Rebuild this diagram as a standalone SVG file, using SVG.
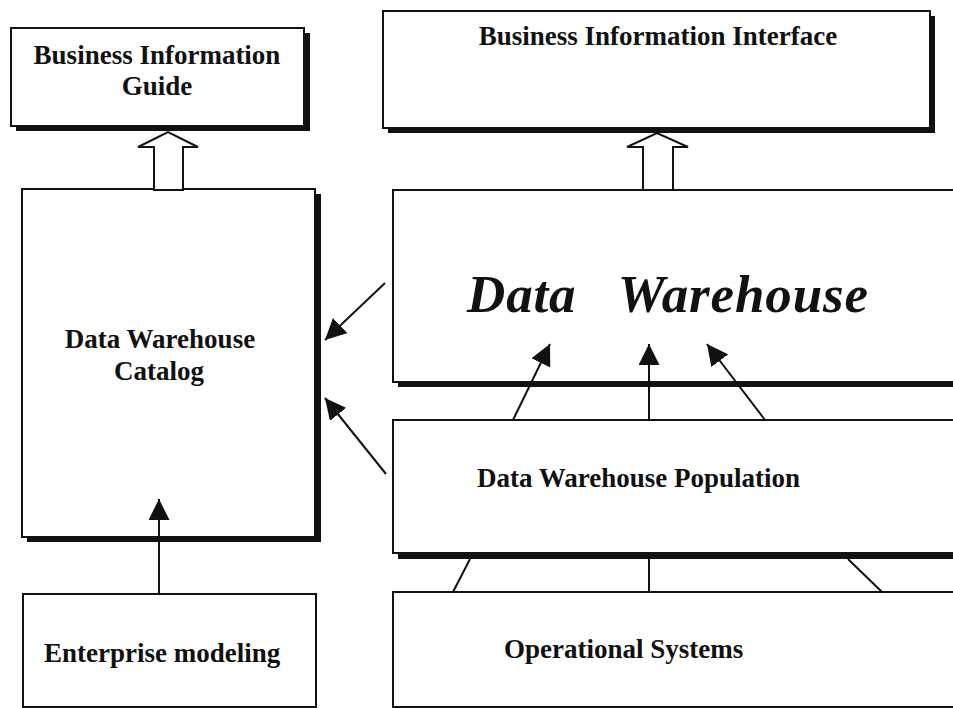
<svg xmlns="http://www.w3.org/2000/svg" width="953" height="708" viewBox="0 0 953 708">
  <defs>
    <style>
      .box { fill: #fff; stroke: #111; stroke-width: 2; }
      .shadow { fill: #111; }
      .label { font-family: "Liberation Serif", "Times New Roman", serif; font-weight: bold; font-size: 27px; fill: #111; }
      .title { font-family: "Liberation Serif", "Times New Roman", serif; font-weight: bold; font-style: italic; font-size: 53px; fill: #111; white-space: pre; }
      .wire { fill: none; stroke: #111; stroke-width: 2; }
      .hollow { fill: #fff; stroke: #111; stroke-width: 2; stroke-linejoin: miter; }
    </style>
    <marker id="head" viewBox="0 0 20 20" refX="20" refY="10" markerWidth="21" markerHeight="21" markerUnits="userSpaceOnUse" orient="auto">
      <path d="M0,0 L20,10 L0,20 z" fill="#111"/>
    </marker>
  </defs>

  <rect width="953" height="708" fill="#fff"/>

  <!-- Business Information Guide -->
  <g id="business-information-guide">
    <rect class="shadow" x="16" y="33" width="294" height="98"/>
    <rect class="box" x="11" y="28" width="293" height="98"/>
    <text class="label" x="157" y="64" text-anchor="middle">Business Information</text>
    <text class="label" x="157" y="95" text-anchor="middle">Guide</text>
  </g>

  <!-- Business Information Interface -->
  <g id="business-information-interface">
    <rect class="shadow" x="388" y="16" width="547" height="117"/>
    <rect class="box" x="383" y="11" width="547" height="117"/>
    <text class="label" x="658" y="45" text-anchor="middle">Business Information Interface</text>
  </g>

  <!-- Data Warehouse Catalog -->
  <g id="data-warehouse-catalog">
    <rect class="shadow" x="27" y="194" width="294" height="348"/>
    <rect class="box" x="22" y="189" width="293" height="348"/>
    <text class="label" x="160" y="348" text-anchor="middle">Data Warehouse</text>
    <text class="label" x="159" y="380" text-anchor="middle">Catalog</text>
  </g>

  <!-- Data Warehouse -->
  <g id="data-warehouse">
    <rect class="shadow" x="398" y="195" width="570" height="192"/>
    <rect class="box" x="393" y="190" width="570" height="192"/>
    <text class="title" x="467" y="312" textLength="401" lengthAdjust="spacing">Data   Warehouse</text>
  </g>

  <!-- Data Warehouse Population -->
  <g id="data-warehouse-population">
    <rect class="shadow" x="398" y="425" width="570" height="134"/>
    <rect class="box" x="393" y="420" width="570" height="133"/>
    <text class="label" x="477" y="487">Data Warehouse Population</text>
  </g>

  <!-- Enterprise modeling -->
  <g id="enterprise-modeling">
    <rect class="box" x="23" y="594" width="293" height="113"/>
    <text class="label" x="44" y="662">Enterprise modeling</text>
  </g>

  <!-- Operational Systems -->
  <g id="operational-systems">
    <rect class="box" x="393" y="592" width="570" height="115"/>
    <text class="label" x="504" y="658">Operational Systems</text>
  </g>

  <!-- Connectors -->
  <g id="connectors">
    <!-- hollow block arrows -->
    <polygon class="hollow" points="154,190 154,147 138,147 168,132 198,147 183,147 183,190"/>
    <polygon class="hollow" points="643,190 643,147 627,147 657,133 688,147 673,147 673,190"/>

    <!-- into the catalog -->
    <line class="wire" x1="385" y1="283" x2="325" y2="340" marker-end="url(#head)"/>
    <line class="wire" x1="386" y1="474" x2="325" y2="398" marker-end="url(#head)"/>
    <line class="wire" x1="159" y1="594" x2="159" y2="499" marker-end="url(#head)"/>

    <!-- population into the warehouse -->
    <line class="wire" x1="513" y1="420" x2="550" y2="344" marker-end="url(#head)"/>
    <line class="wire" x1="649" y1="420" x2="649" y2="344" marker-end="url(#head)"/>
    <line class="wire" x1="765" y1="420" x2="707" y2="344" marker-end="url(#head)"/>

    <!-- operational systems feeding population -->
    <line class="wire" x1="453" y1="592" x2="470" y2="559"/>
    <line class="wire" x1="649" y1="592" x2="649" y2="559"/>
    <line class="wire" x1="882" y1="592" x2="848" y2="559"/>
  </g>
</svg>
